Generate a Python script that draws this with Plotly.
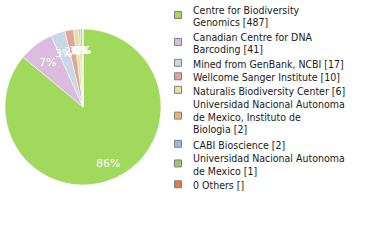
import math
import plotly.graph_objects as go

labels = ["Centre for Biodiversity<br>Genomics [487]",
          "Canadian Centre for DNA<br>Barcoding [41]",
          "Mined from GenBank, NCBI [17]",
          "Wellcome Sanger Institute [10]",
          "Naturalis Biodiversity Center [6]",
          "Universidad Nacional Autonoma<br>de Mexico, Instituto de<br>Biologia [2]",
          "CABI Bioscience [2]",
          "Universidad Nacional Autonoma<br>de Mexico [1]",
          "0 Others []"]
values = [487, 41, 17, 10, 6, 2, 2, 1, 0]
colors = ["#a0d95c", "#dcbcde", "#c8d8e4", "#e0a498", "#e0e4a0",
          "#f0b070", "#98bce0", "#98c870", "#e07858"]

W, H = 380, 240
# pie placement (pixels)
CX, CY, R = 83, 107, 78
dom_x = [(CX - R) / W, (CX + R) / W]
dom_y = [1 - (CY + R) / H, 1 - (CY - R) / H]

fig = go.Figure(go.Pie(
    labels=labels, values=values, sort=False, direction="clockwise", rotation=0,
    marker=dict(colors=colors, line=dict(color="white", width=0.5)),
    textinfo="none", domain=dict(x=dom_x, y=dom_y),
    hoverinfo="none", showlegend=False,
))

annotations = []
shapes = []
total = sum(values)
cum = 0
for v in values:
    if v > 0:
        mid = (cum + v / 2) / total * 2 * math.pi
        r = R * 0.76
        px = CX + r * math.sin(mid)
        py = CY - r * math.cos(mid) + 3
        annotations.append(dict(
            x=px / W, y=1 - py / H, xref="paper", yref="paper",
            text=f"{round(v / total * 100)}%", showarrow=False,
            xanchor="center", yanchor="middle",
            font=dict(family="DejaVu Sans", size=11, color="white")))
    cum += v

# legend drawn from the label list
STEP = 13.5      # advance per line of an item
INNER = 12.3     # line spacing inside an item
y_item = 9.8
for lab, col in zip(labels, colors):
    parts = lab.split("<br>")
    n = len(parts)
    ymid = y_item + (n - 1) * INNER / 2
    sq_y = ymid - 1.0
    shapes.append(dict(type="rect", xref="paper", yref="paper",
                       x0=174.5 / W, x1=181.5 / W,
                       y0=1 - (sq_y - 3.5) / H, y1=1 - (sq_y + 3.5) / H,
                       fillcolor=col, line=dict(color="#808080", width=1)))
    for k, part in enumerate(parts):
        annotations.append(dict(
            x=191 / W, y=1 - (y_item + k * INNER) / H, xref="paper", yref="paper",
            text=part, showarrow=False, align="left",
            xanchor="left", yanchor="middle",
            font=dict(family="DejaVu Sans Condensed", size=10.5, color="#1a1a1a")))
    y_item += n * STEP

fig.update_layout(
    width=W, height=H, margin=dict(l=0, r=0, t=0, b=0),
    paper_bgcolor="white", showlegend=False,
    annotations=annotations, shapes=shapes,
)
fig.write_html("out.html")
